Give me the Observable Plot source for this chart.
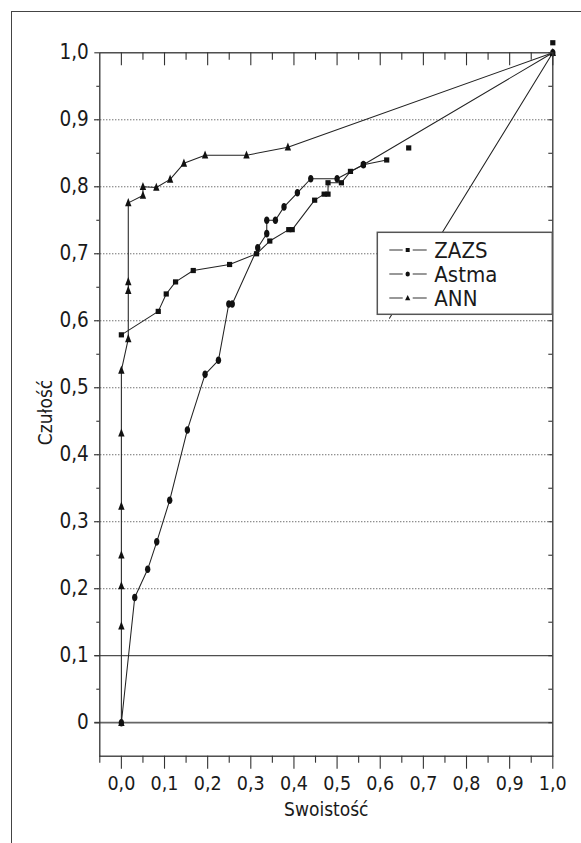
<!DOCTYPE html>
<html>
<head>
<meta charset="utf-8">
<script src="https://cdn.jsdelivr.net/npm/d3@7"></script>
<script src="https://cdn.jsdelivr.net/npm/@observablehq/plot@0.6"></script>
<style>
  body { margin: 0; background: #fff; }
  #wrap { position: relative; width: 581px; height: 843px; overflow: hidden; background: #fff;
          font-family: "DejaVu Sans Condensed", "DejaVu Sans", sans-serif; font-stretch: condensed; }
  #outer { position: absolute; left: 11px; top: 10.5px; width: 700px; height: 900px;
           border-left: 1.5px solid #444; border-top: 1.5px solid #444; }
  #chart { position: absolute; left: 0; top: 0; }
  #overlay { position: absolute; left: 0; top: 0; pointer-events: none; }
</style>
</head>
<body>
<div id="wrap">
  <div id="outer"></div>
  <div id="chart"></div>
  <svg id="overlay" width="581" height="843"></svg>
</div>
<script>
// ---------- data ----------
const seriesNames = ["ZAZS", "Astma", "ANN"];

const zazsX = [0, 0.0855, 0.104, 0.1256, 0.1666, 0.2508, 0.3133, 0.344, 0.388, 0.396, 0.448, 0.47, 0.479, 0.479, 0.51, 0.531, 0.561, 0.615];
const zazsY = [0.579, 0.614, 0.64, 0.658, 0.675, 0.684, 0.70, 0.719, 0.736, 0.736, 0.78, 0.789, 0.789, 0.806, 0.806, 0.823, 0.833, 0.84];
const zazsLooseX = [0.666, 1.0];
const zazsLooseY = [0.858, 1.015];
const extraLineX = [1.0, 0.6215];
const extraLineY = [1.0, 0.6037];

const astmaX = [0, 0.031, 0.061, 0.082, 0.112, 0.153, 0.194, 0.225, 0.249, 0.257, 0.316, 0.337, 0.337, 0.357, 0.377, 0.408, 0.439, 0.5, 0.561, 1.0];
const astmaY = [0, 0.187, 0.229, 0.27, 0.332, 0.437, 0.52, 0.541, 0.625, 0.625, 0.709, 0.73, 0.75, 0.75, 0.77, 0.791, 0.812, 0.812, 0.833, 1.0];

const annX = [0, 0, 0, 0, 0, 0, 0, 0.016, 0.016, 0.016, 0.016, 0.05, 0.05, 0.081, 0.113, 0.145, 0.194, 0.29, 0.386, 1.0];
const annY = [0, 0.144, 0.204, 0.25, 0.323, 0.432, 0.526, 0.573, 0.645, 0.658, 0.776, 0.787, 0.80, 0.799, 0.811, 0.835, 0.847, 0.847, 0.859, 1.0];

const xMajor = [0, 0.1, 0.2, 0.3, 0.4, 0.5, 0.6, 0.7, 0.8, 0.9, 1.0];
const xMinor = [-0.05, 0.05, 0.15, 0.25, 0.35, 0.45, 0.55, 0.65, 0.75, 0.85, 0.95];
const xTickLabels = ["0,0", "0,1", "0,2", "0,3", "0,4", "0,5", "0,6", "0,7", "0,8", "0,9", "1,0"];
const yMajor = [0, 0.1, 0.2, 0.3, 0.4, 0.5, 0.6, 0.7, 0.8, 0.9, 1.0];
const yMinor = [-0.05, 0.05, 0.15, 0.25, 0.35, 0.45, 0.55, 0.65, 0.75, 0.85, 0.95];
const yTickLabels = ["0", "0,1", "0,2", "0,3", "0,4", "0,5", "0,6", "0,7", "0,8", "0,9", "1,0"];
const yDotted = [0.2, 0.3, 0.4, 0.5, 0.6, 0.7, 0.8, 0.9];
const ySolid = [0.1];
const yZero = [0];

const xTitle = "Swoistość";
const yTitle = "Czułość";

// ---------- build ----------
const pts = (name, xs, ys) => xs.map((x, i) => ({series: name, x, y: ys[i]}));
const zazs = pts("ZAZS", zazsX, zazsY);
const zazsLoose = pts("ZAZS", zazsLooseX, zazsLooseY);
const extraLine = pts("extra", extraLineX, extraLineY);
const astma = pts("Astma", astmaX, astmaY);
const ann = pts("ANN", annX, annY);

const squareSym = {draw(ctx) { const s = 5.2; ctx.rect(-s / 2, -s / 2, s, s); }};
const ellipseSym = {draw(ctx) {
  const rx = 2.7, ry = 3.8, k = 0.5523;
  ctx.moveTo(rx, 0);
  ctx.bezierCurveTo(rx, ry * k, rx * k, ry, 0, ry);
  ctx.bezierCurveTo(-rx * k, ry, -rx, ry * k, -rx, 0);
  ctx.bezierCurveTo(-rx, -ry * k, -rx * k, -ry, 0, -ry);
  ctx.bezierCurveTo(rx * k, -ry, rx, -ry * k, rx, 0);
  ctx.closePath();
}};
const triSym = {draw(ctx) { ctx.moveTo(0, -4.8); ctx.lineTo(3.2, 3.3); ctx.lineTo(-3.2, 3.3); ctx.closePath(); }};

const W = 581, H = 843;
const mL = 99.3, mR = 28.7, mT = 52.3, mB = 87.3;
const FW = W - mL - mR, FH = H - mT - mB;
const ink = "#1a1a1a";
const fontFam = '"DejaVu Sans Condensed", "DejaVu Sans", sans-serif';

const lineOpts = {x: "x", y: "y", stroke: "#222", strokeWidth: 1.05, curve: "linear"};

const chart = Plot.plot({
  width: W, height: H,
  marginLeft: mL, marginRight: mR, marginTop: mT, marginBottom: mB,
  x: {domain: [-0.05, 1.0]},
  y: {domain: [-0.05, 1.0]},
  style: {fontFamily: fontFam, fontStretch: "condensed", color: ink, background: "transparent", overflow: "visible"},
  marks: [
    // grid
    Plot.ruleY(yDotted, {stroke: "#333", strokeWidth: 1, strokeDasharray: "1,2", insetLeft: -5}),
    Plot.ruleY(ySolid, {stroke: "#222", strokeWidth: 1, insetLeft: -5}),
    Plot.ruleY(yZero, {stroke: "#666", strokeWidth: 1.8, insetLeft: -5}),
    // data lines
    Plot.line(zazs, lineOpts),
    Plot.line(extraLine, lineOpts),
    Plot.line(astma, lineOpts),
    Plot.line(ann, lineOpts),
    // markers
    Plot.dot(zazs.concat(zazsLoose), {x: "x", y: "y", symbol: squareSym, fill: "#111", stroke: "none"}),
    Plot.dot(astma, {x: "x", y: "y", symbol: ellipseSym, fill: "#111", stroke: "none"}),
    Plot.dot(ann, {x: "x", y: "y", symbol: triSym, fill: "#111", stroke: "none"}),
    // axes frame
    Plot.frame({stroke: "#333", strokeWidth: 1.3}),
    // top ticks (inward)
    Plot.ruleX(xMajor, {stroke: "#333", strokeWidth: 1.1, insetBottom: FH - 13}),
    Plot.ruleX(xMinor.filter(d => d > -0.05), {stroke: "#333", strokeWidth: 1.1, insetBottom: FH - 7.5}),
    // bottom ticks (outward)
    Plot.ruleX(xMajor, {stroke: "#333", strokeWidth: 1.1, insetTop: FH, insetBottom: -13}),
    Plot.ruleX(xMinor, {stroke: "#333", strokeWidth: 1.1, insetTop: FH, insetBottom: -7}),
    // left ticks (outward)
    Plot.ruleY(yMajor, {stroke: "#333", strokeWidth: 1.1, insetLeft: -5, insetRight: FW}),
    Plot.ruleY(yMinor.filter(d => d > -0.05), {stroke: "#333", strokeWidth: 1.1, insetLeft: -3, insetRight: FW}),
    // right ticks (inward)
    Plot.ruleY(yMajor.concat(yMinor.filter(d => d > -0.05)), {stroke: "#333", strokeWidth: 1.1, insetLeft: FW - 4}),
    // tick labels
    Plot.axisX(xMajor, {anchor: "bottom", tickSize: 0, tickPadding: 20, fontSize: 19.5, label: null,
      tickFormat: d => xTickLabels[xMajor.indexOf(d)]}),
    Plot.axisY(yMajor, {anchor: "left", tickSize: 0, tickPadding: 11, fontSize: 20.5, label: null,
      tickFormat: d => yTickLabels[yMajor.indexOf(d)]}),
    // x axis title
    Plot.text([xTitle], {text: d => d, frameAnchor: "bottom", dy: 60, fontSize: 19})
  ]
});
document.getElementById("chart").appendChild(chart);

// ---------- overlay: y title + legend box ----------
const ov = d3.select("#overlay");
ov.append("text")
  .attr("transform", "translate(46,412.5) rotate(-90)")
  .attr("text-anchor", "middle").attr("dy", "0.32em")
  .attr("font-size", 19).attr("font-family", fontFam).attr("font-stretch", "condensed")
  .attr("fill", ink).text(yTitle);

const lg = {x: 377.3, y: 232.3, w: 175, h: 82};
ov.append("rect").attr("x", lg.x).attr("y", lg.y).attr("width", lg.w).attr("height", lg.h)
  .attr("fill", "#fff").attr("stroke", "#555").attr("stroke-width", 1.5);
const legSyms = {
  ZAZS: "M-2,-2h4v4h-4z",
  Astma: "M2.2,0A2.2,2.6 0 1,1 -2.2,0A2.2,2.6 0 1,1 2.2,0Z",
  ANN: "M0,-3L2.6,2.2L-2.6,2.2Z"
};
seriesNames.forEach((name, i) => {
  const cy = 250 + i * 24;
  const g = ov.append("g");
  g.append("line").attr("x1", 389.3).attr("x2", 402.7).attr("y1", cy).attr("y2", cy).attr("stroke", "#444").attr("stroke-width", 1.1);
  g.append("line").attr("x1", 412.7).attr("x2", 426.7).attr("y1", cy).attr("y2", cy).attr("stroke", "#444").attr("stroke-width", 1.1);
  g.append("path").attr("d", legSyms[name]).attr("transform", `translate(407.7,${cy})`).attr("fill", "#111");
  g.append("text").attr("x", 434.3).attr("y", cy + 8).attr("font-size", 22)
    .attr("font-family", fontFam).attr("font-stretch", "condensed").attr("fill", ink).text(name);
});
</script>
</body>
</html>
